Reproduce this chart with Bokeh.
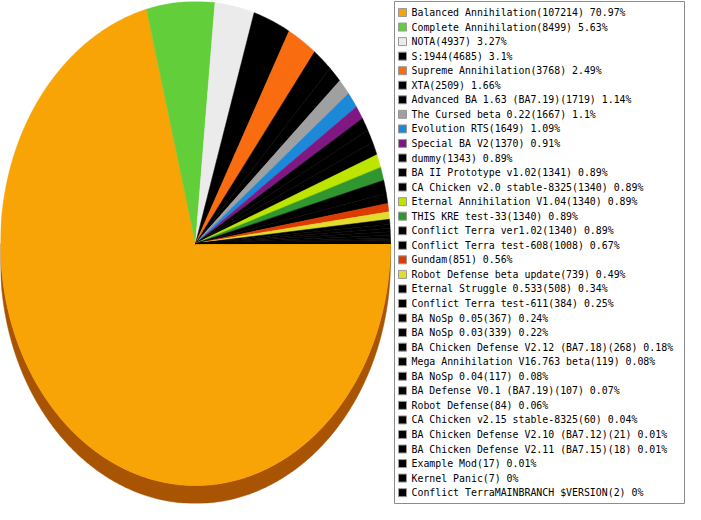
import numpy as np
from bokeh.plotting import figure
from bokeh.models import ColumnDataSource, Range1d
from bokeh.layouts import row
from bokeh.embed import file_html
from bokeh.resources import INLINE
from bokeh.core.properties import value

# ---------------- data ----------------
names = [
    "Balanced Annihilation", "Complete Annihilation", "NOTA", "S:1944",
    "Supreme Annihilation", "XTA", "Advanced BA 1.63 (BA7.19)", "The Cursed beta 0.22",
    "Evolution RTS", "Special BA V2", "dummy", "BA II Prototype v1.02",
    "CA Chicken v2.0 stable-8325", "Eternal Annihilation V1.04", "THIS KRE test-33",
    "Conflict Terra ver1.02", "Conflict Terra test-608", "Gundam",
    "Robot Defense beta update", "Eternal Struggle 0.533", "Conflict Terra test-611",
    "BA NoSp 0.05", "BA NoSp 0.03", "BA Chicken Defense V2.12 (BA7.18)",
    "Mega Annihilation V16.763 beta", "BA NoSp 0.04", "BA Defense V0.1 (BA7.19)",
    "Robot Defense", "CA Chicken v2.15 stable-8325", "BA Chicken Defense V2.10 (BA7.12)",
    "BA Chicken Defense V2.11 (BA7.15)", "Example Mod", "Kernel Panic",
    "Conflict TerraMAINBRANCH $VERSION",
]
counts = [
    107214, 8499, 4937, 4685, 3768, 2509, 1719, 1667, 1649, 1370, 1343, 1341,
    1340, 1340, 1340, 1340, 1008, 851, 739, 508, 384, 367, 339, 268, 119, 117,
    107, 84, 60, 21, 18, 17, 7, 2,
]
colors = [
    "#F8A306", "#62CF3A", "#EBEBEB", "#000000", "#F96C10", "#000000", "#000000",
    "#A0A0A0", "#1B88D8", "#801884", "#000000", "#000000", "#000000", "#BDE500",
    "#2F9630", "#000000", "#000000", "#DD3B00", "#E1DD2E", "#000000", "#000000",
    "#000000", "#000000", "#000000", "#000000", "#000000", "#000000", "#000000",
    "#000000", "#000000", "#000000", "#000000", "#000000", "#000000",
]

total = float(sum(counts))
fractions = [c / total for c in counts]


def fmt_pct(f):
    s = "%.2f" % (f * 100)
    return s.rstrip("0").rstrip(".")


labels = [f"{n}({c}) {fmt_pct(f)}%" for n, c, f in zip(names, counts, fractions)]

# ---------------- layout constants ----------------
H = 504
W_PIE = 393
W_LEG = 292
RX_PX, RY_PX, DEPTH_PX = 195.0, 243.0, 18.0


def darken(hexc):
    r, g, b = int(hexc[1:3], 16), int(hexc[3:5], 16), int(hexc[5:7], 16)
    return "#%02X%02X%02X" % (int(r * 0.68), int(g * 0.52), int(b * 0.4))


# ---------------- pie (elliptical, with a side extrusion) ----------------
depth = DEPTH_PX / RY_PX
cum = np.concatenate([[0.0], np.cumsum(fractions)])
starts = -2 * np.pi * cum[:-1]   # clockwise from 3 o'clock
ends = -2 * np.pi * cum[1:]

top_xs, top_ys, top_cols = [], [], []
side_xs, side_ys, side_cols = [], [], []
for a0, a1, col in zip(starts, ends, colors):
    n = max(3, int(abs(a0 - a1) / (2 * np.pi) * 720) + 2)
    t = np.linspace(a0, a1, n)
    top_xs.append(list(np.concatenate([[0.0], np.cos(t)])))
    top_ys.append(list(np.concatenate([[0.0], np.sin(t)])))
    top_cols.append(col)
    hi = min(a0, 0.0)
    lo = max(a1, -np.pi)
    if lo < hi:
        n2 = max(3, int((hi - lo) / (2 * np.pi) * 720) + 2)
        s = np.linspace(hi, lo, n2)
        xs = np.concatenate([np.cos(s), np.cos(s[::-1])])
        ys = np.concatenate([np.sin(s), np.sin(s[::-1]) - depth])
        side_xs.append(list(xs))
        side_ys.append(list(ys))
        side_cols.append(darken(col))

pie = figure(
    width=W_PIE, height=H,
    x_range=Range1d(-1.0, (W_PIE - RX_PX) / RX_PX),
    y_range=Range1d(1.0 - H / RY_PX, 1.0),
    x_axis_type=None, y_axis_type=None,
    toolbar_location=None, output_backend="svg",
    min_border=0, outline_line_color=None,
    background_fill_color="white", border_fill_color="white",
)
pie.grid.visible = False
pie.patches("xs", "ys", source=ColumnDataSource(dict(xs=side_xs, ys=side_ys, c=side_cols)),
            fill_color="c", line_color="c", line_width=0.5)
pie.patches("xs", "ys", source=ColumnDataSource(dict(xs=top_xs, ys=top_ys, c=top_cols)),
            fill_color="c", line_color="c", line_width=0.5)

# ---------------- legend box ----------------
FRAME_H = H - 2
ROW0, PITCH = 11.0, 14.55
leg = figure(
    width=W_LEG, height=H,
    x_range=Range1d(0, W_LEG - 2),
    y_range=Range1d((FRAME_H - ROW0) / PITCH, -ROW0 / PITCH),
    x_axis_type=None, y_axis_type=None,
    toolbar_location=None, output_backend="svg",
    min_border=1, outline_line_color="#8C8C8C", outline_line_width=1,
    background_fill_color="white", border_fill_color="white",
)
leg.grid.visible = False
rows = list(range(len(labels)))
lsrc = ColumnDataSource(dict(y=rows, c=colors, t=labels, sx=[8.0] * len(rows), tx=[17.0] * len(rows)))
leg.rect(x="sx", y="y", width=8, height=8, width_units="screen", height_units="screen",
         fill_color="c", line_color="#999999", line_width=1, source=lsrc)
leg.text(x="tx", y="y", text="t", source=lsrc, text_font=value("DejaVu Sans Mono"),
         text_font_size="9.9px", text_baseline="middle", text_align="left", text_color="black")

layout = row(pie, leg, spacing=0)
open("out.html", "w").write(file_html(layout, INLINE))
